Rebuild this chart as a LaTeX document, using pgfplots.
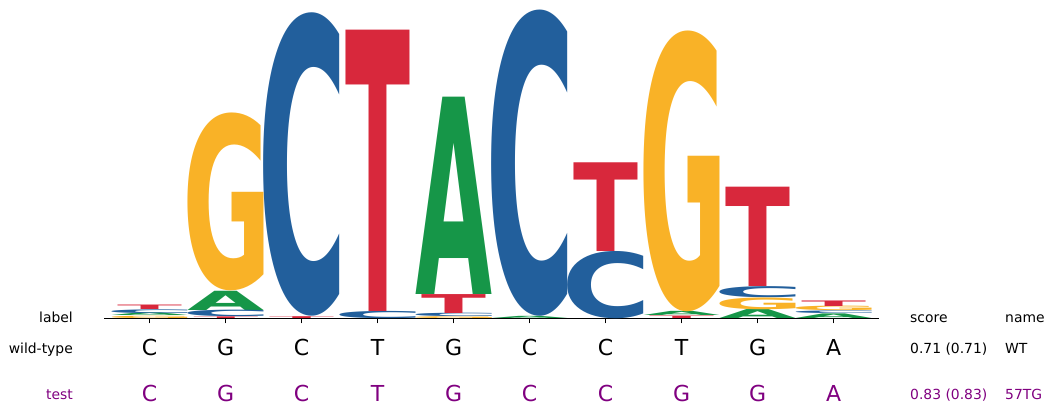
\documentclass[border=0pt]{standalone}
\usepackage{fontspec}
\setmainfont{DejaVu Sans}
\newfontfamily\logofont{DejaVu Sans}
\usepackage{graphicx}
\usepackage{pgfplots}
\usepackage{pgfplotstable}
\pgfplotsset{compat=1.18}

\definecolor{cA}{HTML}{169648}
\definecolor{cC}{HTML}{225F9C}
\definecolor{cG}{HTML}{F9B227}
\definecolor{cT}{HTML}{D8283C}
\definecolor{tpurple}{HTML}{800080}

\newcommand\lab{\fontsize{13.9pt}{16pt}\selectfont}
\newcommand\seqfont{\fontsize{22pt}{26pt}\selectfont}

% one bit of information = 154pt
\newdimen\ylen \ylen=154pt
\newdimen\lsb \newdimen\rsb
\newdimen\lh
% box cut to the ink of the glyph
\protected\def\inkbox#1{{\logofont\bfseries
  \setbox0=\hbox{#1}%
  \lsb=\XeTeXglyphbounds1 \XeTeXcharglyph`#1\relax
  \rsb=\XeTeXglyphbounds3 \XeTeXcharglyph`#1\relax
  \hbox{\kern-\lsb\box0\kern-\rsb}}}
\protected\def\logoletter#1#2#3{\lh=#3\ylen\relax\resizebox*{#2}{\lh}{\inkbox{#1}}}

\pgfplotsset{
  logo/.style n args={3}{
    draw=none, mark=none, point meta=explicit symbolic,
    nodes near coords={\logoletter{#1}{#2}{\pgfplotspointmeta}},
    nodes near coords align={anchor=south},
    every node near coord/.append style={anchor=south, inner sep=0pt, outer sep=0pt, text=#3},
  },
}

% position, base of the letter (bits), height of the letter (bits)
\pgfplotstableread{
x  y     h
1  0.015 0.017
2  0.053 0.125
5  0.157 1.280
6  0.000 0.014
8  0.016 0.027
9  0.000 0.058
10 0.000 0.030
}\tabA
\pgfplotstableread{
x  y     h
1  0.032 0.024
2  0.011 0.042
3  0.012 1.970
4  0.000 0.047
5  0.012 0.022
6  0.014 1.988
7  0.000 0.437
9  0.134 0.072
10 0.030 0.017
}\tabC
\pgfplotstableread{
x  y     h
1  0.000 0.015
2  0.178 1.155
5  0.000 0.012
8  0.043 1.823
9  0.058 0.076
10 0.047 0.029
}\tabG
\pgfplotstableread{
x  y     h
1  0.056 0.029
2  0.000 0.011
3  0.000 0.012
4  0.047 1.825
5  0.034 0.123
7  0.437 0.576
8  0.000 0.016
9  0.206 0.645
10 0.076 0.036
}\tabT

\begin{document}
\begin{tikzpicture}
\useasboundingbox (0,0) rectangle (1054pt,-415pt);
\begin{axis}[
  at={(104pt,-318.3pt)}, anchor=south west,
  x=76pt, y=154pt,
  xmin=0.4, xmax=10.6, ymin=0, ymax=2.06,
  axis x line*=bottom, axis y line=none,
  xtick={1,...,10}, xticklabels={},
  tick align=outside, major tick length=5pt,
  every tick/.style={black, line width=1pt},
  axis line style={line width=1.1pt},
  clip=false,
]
\addplot[logo={A}{76pt}{cA}] table[x=x, y=y, meta=h] {\tabA};
\addplot[logo={C}{76pt}{cC}] table[x=x, y=y, meta=h] {\tabC};
\addplot[logo={G}{76pt}{cG}] table[x=x, y=y, meta=h] {\tabG};
\addplot[logo={T}{64pt}{cT}] table[x=x, y=y, meta=h] {\tabT};

\foreach \i/\w/\v in {1/C/C,2/G/G,3/C/C,4/T/T,5/G/G,6/C/C,7/C/C,8/T/G,9/G/G,10/A/A}{
  \edef\tmp{\noexpand\node[anchor=base, inner sep=0pt, font=\noexpand\seqfont, yshift=-37pt] at (axis cs:\i,0) {\w};
    \noexpand\node[anchor=base, inner sep=0pt, font=\noexpand\seqfont, text=tpurple, yshift=-82.7pt] at (axis cs:\i,0) {\v};}
  \tmp}
\end{axis}

\begin{scope}[every node/.style={inner sep=0pt, font=\lab}]
\node[anchor=base east] at (73pt,-322pt) {label};
\node[anchor=base west] at (910pt,-322pt) {score};
\node[anchor=base west] at (1005pt,-322pt) {name};
\node[anchor=base east] at (73pt,-353.3pt) {wild-type};
\node[anchor=base west] at (910pt,-353.3pt) {0.71 (0.71)};
\node[anchor=base west] at (1005pt,-353.3pt) {WT};
\node[anchor=base east, text=tpurple] at (73pt,-399.5pt) {test};
\node[anchor=base west, text=tpurple] at (910pt,-399.5pt) {0.83 (0.83)};
\node[anchor=base west, text=tpurple] at (1005pt,-399.5pt) {57TG};
\end{scope}
\end{tikzpicture}
\end{document}
